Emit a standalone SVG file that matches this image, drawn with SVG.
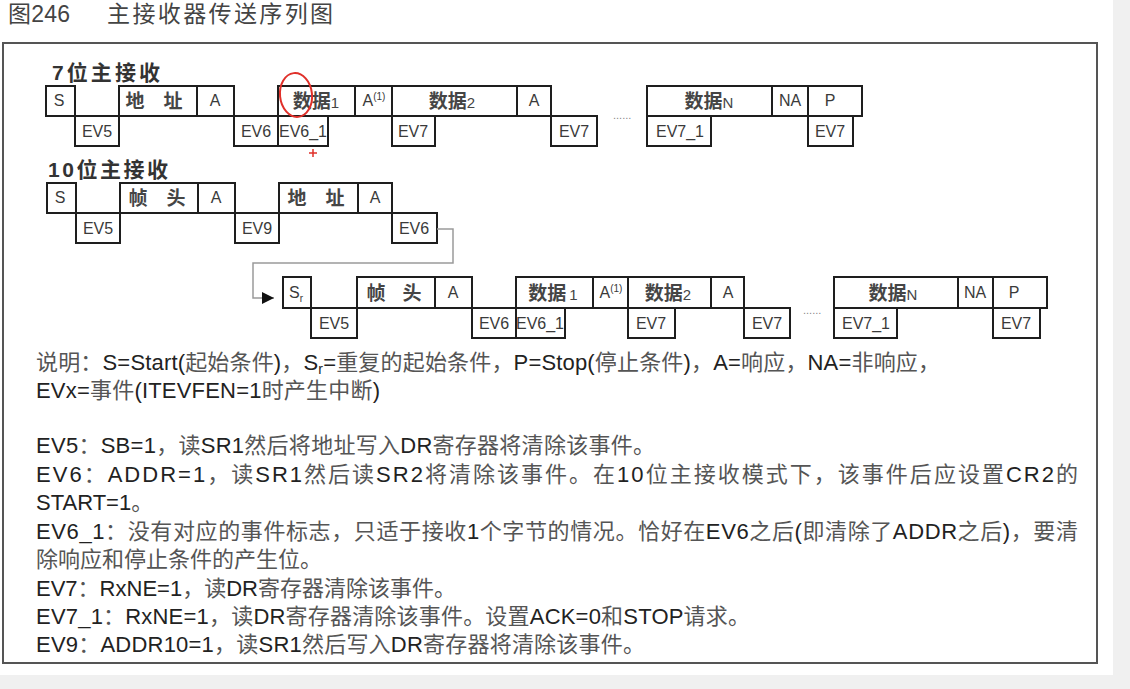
<svg xmlns="http://www.w3.org/2000/svg" width="1130" height="689" viewBox="0 0 1130 689">
<defs>
<style>
.box{fill:#fff;stroke:#1e1e1e;stroke-width:2}
.t{font-family:"Liberation Sans","Noto Sans CJK SC",sans-serif;font-size:16px;fill:#3a3a3a;text-anchor:middle}
.c{font-family:"Noto Sans CJK SC","Liberation Sans",sans-serif;font-size:19px;font-weight:700;fill:#454545;text-anchor:middle}
.n{font-family:"Liberation Sans",sans-serif;font-size:15px;font-weight:400}
.h{font-family:"Liberation Sans","Noto Sans CJK SC",sans-serif;font-size:21px;font-weight:700;fill:#333}
.d{font-family:"Liberation Sans","Noto Sans CJK SC",sans-serif;font-size:22px;fill:#222}
.k{fill:#555}
.ttl{font-family:"Liberation Sans","Noto Sans CJK SC",sans-serif;font-size:23px;fill:#444}
.dots{font-family:"Liberation Sans",sans-serif;font-size:11px;fill:#888}
.conn{fill:none;stroke:#9a9a9a;stroke-width:1.5}
.red{fill:none;stroke:#e0302a;stroke-width:2}
</style>
<marker id="arr" markerWidth="12" markerHeight="12" refX="12" refY="6" orient="auto" markerUnits="userSpaceOnUse"><path d="M0,0 L12,6 L0,12 z" fill="#111"/></marker>
</defs>
<rect x="0" y="0" width="1130" height="689" fill="#fff"/>
<rect x="1113" y="0" width="17" height="689" fill="#f0f0f0"/>
<rect x="0" y="675" width="1130" height="14" fill="#f0f0f0"/>

<g id="title">
<text class="ttl" x="8" y="22" textLength="62">图246</text>
<text class="ttl" x="107" y="22" textLength="226" fill="#555">主接收器传送序列图</text>
</g>
<rect id="frame" x="3" y="43" width="1094" height="620" fill="none" stroke="#555" stroke-width="2"/>

<g id="label-7bit"><text class="h" x="52" y="80" textLength="108">7位主接收</text></g>
<g id="label-10bit"><text class="h" x="48" y="177" textLength="120">10位主接收</text></g>

<!-- Row 1: 7-bit -->
<g id="r1-S"><rect class="box" x="46" y="86" width="29" height="30"/><text class="t" x="59" y="106">S</text></g>
<g id="r1-EV5"><rect class="box" x="75" y="116" width="44" height="30"/><text class="t" x="97" y="137">EV5</text></g>
<g id="r1-addr"><rect class="box" x="119" y="86" width="78" height="30"/><text class="c" x="154" y="108" textLength="57">地 址</text></g>
<g id="r1-A1"><rect class="box" x="197" y="86" width="37" height="30"/><text class="t" x="215" y="106">A</text></g>
<g id="r1-EV6"><rect class="box" x="234" y="116" width="44" height="30"/><text class="t" x="256" y="137">EV6</text></g>
<g id="r1-data1"><rect class="box" x="278" y="86" width="77" height="30"/><text class="c" x="316" y="108">数据<tspan class="n">1</tspan></text></g>
<g id="r1-EV6_1"><rect class="box" x="278" y="116" width="50" height="30"/><text class="t" x="303" y="137">EV6_1</text></g>
<g id="r1-A2"><rect class="box" x="355" y="86" width="37" height="30"/><text class="t" x="374" y="106">A<tspan font-size="10" dy="-6">(1)</tspan></text></g>
<g id="r1-EV7a"><rect class="box" x="392" y="116" width="43" height="30"/><text class="t" x="413" y="137">EV7</text></g>
<g id="r1-data2"><rect class="box" x="392" y="86" width="125" height="30"/><text class="c" x="452" y="108">数据<tspan class="n">2</tspan></text></g>
<g id="r1-A3"><rect class="box" x="517" y="86" width="34" height="30"/><text class="t" x="534" y="106">A</text></g>
<g id="r1-EV7b"><rect class="box" x="551" y="116" width="46" height="30"/><text class="t" x="574" y="137">EV7</text></g>
<g id="r1-dots"><text class="dots" x="613" y="119">......</text></g>
<g id="r1-dataN"><rect class="box" x="647" y="86" width="125" height="30"/><text class="c" x="709" y="108">数据<tspan class="n">N</tspan></text></g>
<g id="r1-NA"><rect class="box" x="772" y="86" width="36" height="30"/><text class="t" x="790" y="106">NA</text></g>
<g id="r1-P"><rect class="box" x="808" y="86" width="54" height="30"/><text class="t" x="830" y="106">P</text></g>
<g id="r1-EV7_1"><rect class="box" x="647" y="116" width="64" height="30"/><text class="t" x="680" y="137">EV7_1</text></g>
<g id="r1-EV7c"><rect class="box" x="808" y="116" width="45" height="30"/><text class="t" x="830" y="137">EV7</text></g>

<!-- Row 2: 10-bit first part -->
<g id="r2-S"><rect class="box" x="47" y="183" width="29" height="30"/><text class="t" x="60" y="203">S</text></g>
<g id="r2-EV5"><rect class="box" x="76" y="213" width="44" height="30"/><text class="t" x="98" y="234">EV5</text></g>
<g id="r2-header"><rect class="box" x="120" y="183" width="78" height="30"/><text class="c" x="157" y="205" textLength="57">帧 头</text></g>
<g id="r2-A1"><rect class="box" x="198" y="183" width="37" height="30"/><text class="t" x="216" y="203">A</text></g>
<g id="r2-EV9"><rect class="box" x="235" y="213" width="44" height="30"/><text class="t" x="257" y="234">EV9</text></g>
<g id="r2-addr"><rect class="box" x="279" y="183" width="79" height="30"/><text class="c" x="316" y="205" textLength="57">地 址</text></g>
<g id="r2-A2"><rect class="box" x="358" y="183" width="34" height="30"/><text class="t" x="375" y="203">A</text></g>
<g id="r2-EV6"><rect class="box" x="392" y="213" width="45" height="30"/><text class="t" x="414" y="234">EV6</text></g>

<!-- Row 3: 10-bit continued -->
<g id="r3-Sr"><rect class="box" x="283" y="277" width="28" height="31"/><text class="t" x="296" y="298">S<tspan font-size="10" dy="4">r</tspan></text></g>
<g id="r3-EV5"><rect class="box" x="311" y="308" width="46" height="30"/><text class="t" x="334" y="329">EV5</text></g>
<g id="r3-header"><rect class="box" x="357" y="277" width="78" height="31"/><text class="c" x="394" y="300" textLength="55">帧 头</text></g>
<g id="r3-A1"><rect class="box" x="435" y="277" width="37" height="31"/><text class="t" x="453" y="298">A</text></g>
<g id="r3-EV6"><rect class="box" x="472" y="308" width="44" height="30"/><text class="t" x="494" y="329">EV6</text></g>
<g id="r3-data1"><rect class="box" x="516" y="277" width="77" height="31"/><text class="c" x="553" y="300">数据<tspan class="n" dx="3">1</tspan></text></g>
<g id="r3-EV6_1"><rect class="box" x="516" y="308" width="49" height="30"/><text class="t" x="540" y="329">EV6_1</text></g>
<g id="r3-A2"><rect class="box" x="593" y="277" width="35" height="31"/><text class="t" x="611" y="298">A<tspan font-size="10" dy="-6">(1)</tspan></text></g>
<g id="r3-EV7a"><rect class="box" x="628" y="308" width="47" height="30"/><text class="t" x="651" y="329">EV7</text></g>
<g id="r3-data2"><rect class="box" x="628" y="277" width="83" height="31"/><text class="c" x="668" y="300">数据<tspan class="n">2</tspan></text></g>
<g id="r3-A3"><rect class="box" x="711" y="277" width="33" height="31"/><text class="t" x="728" y="298">A</text></g>
<g id="r3-EV7b"><rect class="box" x="744" y="308" width="46" height="30"/><text class="t" x="767" y="329">EV7</text></g>
<g id="r3-dots"><text class="dots" x="803" y="314">......</text></g>
<g id="r3-dataN"><rect class="box" x="834" y="277" width="124" height="31"/><text class="c" x="893" y="300">数据<tspan class="n">N</tspan></text></g>
<g id="r3-NA"><rect class="box" x="958" y="277" width="35" height="31"/><text class="t" x="975" y="298">NA</text></g>
<g id="r3-P"><rect class="box" x="993" y="277" width="54" height="31"/><text class="t" x="1014" y="298">P</text></g>
<g id="r3-EV7_1"><rect class="box" x="834" y="308" width="63" height="30"/><text class="t" x="866" y="329">EV7_1</text></g>
<g id="r3-EV7c"><rect class="box" x="993" y="308" width="47" height="30"/><text class="t" x="1016" y="329">EV7</text></g>

<g id="connectors">
<path class="conn" d="M437,229 H453 V263 H253 V298 H274" marker-end="url(#arr)"/>
</g>

<g id="annotation">
<ellipse class="red" cx="296" cy="95" rx="16" ry="22" transform="rotate(-6 296 95)"/>
<path d="M309,153 H317 M313,149 V157" stroke="#e0302a" stroke-width="1.5"/>
</g>

<g id="notes">
<text class="d" x="36" y="370" textLength="904"><tspan class="k">说明：</tspan>S=Start(<tspan class="k">起始条件</tspan>)<tspan class="k">，</tspan>S<tspan font-size="14" dy="4">r</tspan><tspan dy="-4">=</tspan><tspan class="k">重复的起始条件，</tspan>P=Stop(<tspan class="k">停止条件</tspan>)<tspan class="k">，</tspan>A=<tspan class="k">响应，</tspan>NA=<tspan class="k">非响应，</tspan></text>
<text class="d" x="36" y="398" textLength="344">EVx=<tspan class="k">事件</tspan>(ITEVFEN=1<tspan class="k">时产生中断</tspan>)</text>
<text class="d" x="36" y="453" textLength="619">EV5<tspan class="k">：</tspan>SB=1<tspan class="k">，读</tspan>SR1<tspan class="k">然后将地址写入</tspan>DR<tspan class="k">寄存器将清除该事件。</tspan></text>
<text class="d" x="36" y="482" textLength="1042">EV6<tspan class="k">：</tspan>ADDR=1<tspan class="k">，读</tspan>SR1<tspan class="k">然后读</tspan>SR2<tspan class="k">将清除该事件。在</tspan>10<tspan class="k">位主接收模式下，该事件后应设置</tspan>CR2<tspan class="k">的</tspan></text>
<text class="d" x="36" y="510">START=1<tspan class="k">。</tspan></text>
<text class="d" x="36" y="539" textLength="1042">EV6_1<tspan class="k">：没有对应的事件标志，只适于接收</tspan>1<tspan class="k">个字节的情况。恰好在</tspan>EV6<tspan class="k">之后</tspan>(<tspan class="k">即清除了</tspan>ADDR<tspan class="k">之后</tspan>)<tspan class="k">，要清</tspan></text>
<text class="d" x="36" y="567"><tspan class="k">除响应和停止条件的产生位。</tspan></text>
<text class="d" x="36" y="596">EV7<tspan class="k">：</tspan>RxNE=1<tspan class="k">，读</tspan>DR<tspan class="k">寄存器清除该事件。</tspan></text>
<text class="d" x="36" y="624" textLength="714">EV7_1<tspan class="k">：</tspan>RxNE=1<tspan class="k">，读</tspan>DR<tspan class="k">寄存器清除该事件。设置</tspan>ACK=0<tspan class="k">和</tspan>STOP<tspan class="k">请求。</tspan></text>
<text class="d" x="36" y="652" textLength="609">EV9<tspan class="k">：</tspan>ADDR10=1<tspan class="k">，读</tspan>SR1<tspan class="k">然后写入</tspan>DR<tspan class="k">寄存器将清除该事件。</tspan></text>
</g>
</svg>
